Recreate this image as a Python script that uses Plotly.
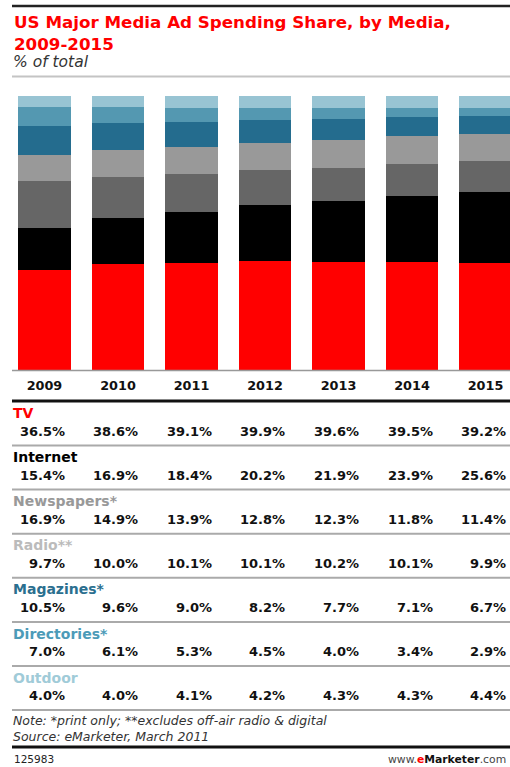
import plotly.graph_objects as go

# ---- data -------------------------------------------------------------
years = ["2009", "2010", "2011", "2012", "2013", "2014", "2015"]
media = ["TV", "Internet", "Newspapers*", "Radio**", "Magazines*", "Directories*", "Outdoor"]

tv = [36.5, 38.6, 39.1, 39.9, 39.6, 39.5, 39.2]
internet = [15.4, 16.9, 18.4, 20.2, 21.9, 23.9, 25.6]
newspapers = [16.9, 14.9, 13.9, 12.8, 12.3, 11.8, 11.4]
radio = [9.7, 10.0, 10.1, 10.1, 10.2, 10.1, 9.9]
magazines = [10.5, 9.6, 9.0, 8.2, 7.7, 7.1, 6.7]
directories = [7.0, 6.1, 5.3, 4.5, 4.0, 3.4, 2.9]
outdoor = [4.0, 4.0, 4.1, 4.2, 4.3, 4.3, 4.4]

series = [tv, internet, newspapers, radio, magazines, directories, outdoor]

notes = ["Note: *print only; **excludes off-air radio &amp; digital",
         "Source: eMarketer, March 2011"]

# ---- styling ----------------------------------------------------------
bar_colors = ["#ff0000", "#000000", "#666666", "#999999", "#246c8e", "#5498b1", "#98c4d3"]
label_colors = ["#ff0000", "#000000", "#999999", "#bbbbbb", "#2b6f8f", "#4c9bb8", "#a0cbd8"]

W, H = 510, 767
PLOT_TOP, PLOT_BOTTOM = 96, 370
PLOT_H = PLOT_BOTTOM - PLOT_TOP

FONT = "DejaVu Sans"


def py(y_pixel):
    """Convert a pixel row into paper coordinates of the plot area."""
    return (PLOT_BOTTOM - y_pixel) / PLOT_H


def px(x_pixel):
    return x_pixel / W


fig = go.Figure()
for name, vals, col in zip(media, series, bar_colors):
    fig.add_trace(go.Bar(
        x=list(range(len(years))), y=vals, name=name,
        marker=dict(color=col, line=dict(width=0)),
        hoverinfo="skip", showlegend=False,
    ))

annotations = []
shapes = []

# Title block
annotations.append(dict(
    text="<b>US Major Media Ad Spending Share, by Media,<br>2009-2015</b>",
    x=px(12), y=py(10.5), xref="paper", yref="paper", xanchor="left", yanchor="top",
    align="left", showarrow=False,
    font=dict(family=FONT, size=16.7, color="#ff0000"),
))
annotations.append(dict(
    text="<i>% of total</i>", x=px(11), y=py(62), xref="paper", yref="paper",
    xanchor="left", yanchor="middle", showarrow=False,
    font=dict(family=FONT, size=15.5, color="#333333"),
))

# Horizontal rules
def hline(y, color, width):
    shapes.append(dict(type="line", xref="paper", yref="paper",
                       x0=px(12), x1=px(W + 2), y0=py(y), y1=py(y),
                       line=dict(color=color, width=width)))

hline(6, "#222222", 2.5)
hline(76.5, "#c4c4c4", 2)
hline(370.5, "#999999", 1.5)
hline(401, "#111111", 3)
hline(747, "#111111", 3)

# Data table under the bars
ROW0, ROW_STEP = 413, 44.1
VALUE_OFFSET = 0.306
for k, (name, vals, lc) in enumerate(zip(media, series, label_colors)):
    ly = ROW0 + ROW_STEP * k
    annotations.append(dict(
        text=f"<b>{name}</b>", x=px(11), y=py(ly), xref="paper", yref="paper",
        xanchor="left", yanchor="middle", showarrow=False,
        font=dict(family=FONT, size=14, color=lc),
    ))
    for i, v in enumerate(vals):
        annotations.append(dict(
            text=f"<b>{v:.1f}%</b>", x=i + VALUE_OFFSET, y=py(ly + 18),
            xref="x", yref="paper", xanchor="right", yanchor="middle",
            showarrow=False, font=dict(family=FONT, size=13, color="#111111"),
        ))
    hline(ly + 32.5, "#aaaaaa", 2)

# Footnotes
annotations.append(dict(
    text="<i>" + "<br>".join(notes) + "</i>", x=px(11), y=py(728.5),
    xref="paper", yref="paper", xanchor="left", yanchor="middle", align="left",
    showarrow=False, font=dict(family=FONT, size=12.5, color="#333333"),
))
annotations.append(dict(
    text="125983", x=px(12), y=py(758.5), xref="paper", yref="paper",
    xanchor="left", yanchor="middle", showarrow=False,
    font=dict(family=FONT, size=10.5, color="#222222"),
))
annotations.append(dict(
    text=("<span style='color:#444444'>www.</span>"
          "<b><span style='color:#ff0000'>e</span>Marketer</b>"
          "<span style='color:#444444'>.com</span>"),
    x=px(508), y=py(759), xref="paper", yref="paper",
    xanchor="right", yanchor="middle", showarrow=False,
    font=dict(family=FONT, size=10.8, color="#111111"),
))

fig.update_layout(
    width=W, height=H,
    margin=dict(l=0, r=0, t=PLOT_TOP, b=H - PLOT_BOTTOM, pad=0),
    paper_bgcolor="white", plot_bgcolor="white",
    barmode="stack", bargap=0.28,
    xaxis=dict(
        range=[-0.605, 6.333], tickmode="array",
        tickvals=list(range(len(years))), ticktext=[f"<b>{y}</b>" for y in years],
        tickfont=dict(family=FONT, size=12.8, color="#111111"),
        showgrid=False, zeroline=False, showline=False, ticks="",
        ticklabelstandoff=6, fixedrange=True,
    ),
    yaxis=dict(range=[0, 100], visible=False, fixedrange=True),
    annotations=annotations, shapes=shapes,
)

fig.write_html("out.html", config={"displayModeBar": False})
